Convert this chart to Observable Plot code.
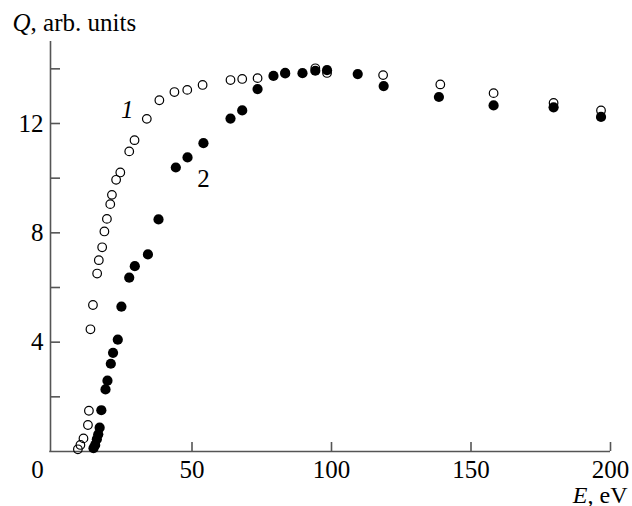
<!DOCTYPE html>
<html><head><meta charset="utf-8">
<script src="https://cdn.jsdelivr.net/npm/d3@7"></script>
<script src="https://cdn.jsdelivr.net/npm/@observablehq/plot@0.6"></script>
<style>body{margin:0;background:#fff}</style>
</head><body><div id="chart"></div>
<script>
// Curve 1 (open circles)
const openE = [9.1, 10.0, 11.1, 12.7, 13.05, 13.6, 14.5, 16.0, 16.6, 17.8, 18.6, 19.5, 20.7, 21.3, 22.8, 24.3, 27.5, 29.4, 33.8, 38.3, 43.7, 48.3, 53.8, 63.8, 68.0, 73.5, 83.4, 94.2, 98.4, 118.5, 139.0, 158.1, 179.6, 196.6];
const openQ = [0.08, 0.24, 0.48, 0.97, 1.49, 4.47, 5.36, 6.51, 7.0, 7.47, 8.05, 8.51, 9.05, 9.39, 9.94, 10.21, 10.98, 11.39, 12.17, 12.85, 13.15, 13.23, 13.41, 13.59, 13.63, 13.66, 13.86, 14.02, 13.85, 13.77, 13.43, 13.11, 12.75, 12.48];
// Curve 2 (filled circles)
const filledE = [14.7, 15.3, 15.9, 16.4, 16.9, 17.5, 19.0, 19.7, 20.9, 21.7, 23.4, 24.7, 27.5, 29.5, 34.2, 38.0, 44.2, 48.4, 54.1, 63.8, 68.0, 73.5, 79.2, 83.4, 89.6, 94.2, 98.4, 109.4, 118.7, 138.5, 158.1, 179.6, 196.6];
const filledQ = [0.12, 0.24, 0.45, 0.63, 0.87, 1.51, 2.27, 2.59, 3.21, 3.61, 4.09, 5.30, 6.36, 6.78, 7.21, 8.49, 10.39, 10.76, 11.28, 12.18, 12.48, 13.26, 13.74, 13.83, 13.84, 13.93, 13.95, 13.81, 13.37, 12.97, 12.66, 12.59, 12.24];

const xTicks = [50, 100, 150, 200];
const xZeroLabel = [0];
const yTicks = [2, 4, 6, 8, 10, 12, 14];
const yLabeledTicks = [4, 8, 12];
const yTitle = ["Q", ", arb. units"];
const xTitle = ["E", ", eV"];
const curveLabels = ["1", "2"];
const curveLabelE = [26.8, 54.1];
const curveLabelQ = [12.49, 9.98];

const openData = openE.map((e, i) => ({E: e, Q: openQ[i]}));
const filledData = filledE.map((e, i) => ({E: e, Q: filledQ[i]}));

const W = 632, H = 506;
const mL = 52, mR = 22, mT = 41, mB = 55;
const plotW = W - mL - mR, plotH = H - mT - mB;
const axisColor = "#555";
const FS = 25;

const chart = Plot.plot({
  width: W, height: H,
  marginLeft: mL, marginRight: mR, marginTop: mT, marginBottom: mB,
  style: {fontFamily: "'Liberation Serif', 'Times New Roman', serif", fontSize: FS + "px", background: "#fff", color: "#000"},
  x: {domain: [0, 200], axis: null},
  y: {domain: [0, 15], axis: null},
  marks: [
    Plot.ruleX([0], {dx: -2, stroke: axisColor, strokeWidth: 1.6}),
    Plot.ruleY([0], {insetLeft: -2.8, stroke: axisColor, strokeWidth: 1.6}),
    Plot.tickX(xTicks, {x: d => d, insetTop: plotH - 9, stroke: axisColor, strokeWidth: 1.6}),
    Plot.tickY(yTicks, {y: d => d, insetRight: plotW - 10, dx: -2, stroke: axisColor, strokeWidth: 1.6}),
    Plot.axisX(xTicks, {tickSize: 0, tickPadding: 9, label: null, fontSize: FS, fill: "#000"}),
    Plot.axisX(xZeroLabel, {tickSize: 0, tickPadding: 9, dx: -15, label: null, fontSize: FS, fill: "#000"}),
    Plot.axisY(yLabeledTicks, {tickSize: 0, tickPadding: 7, dx: -2, label: null, fontSize: FS, fill: "#000"}),
    Plot.dot(openData, {x: "E", y: "Q", r: 4.3, stroke: "#000", strokeWidth: 1.2, fill: "none"}),
    Plot.dot(filledData, {x: "E", y: "Q", r: 5.1, fill: "#000", stroke: "none"}),
    Plot.text([curveLabels[0]], {x: () => curveLabelE[0], y: () => curveLabelQ[0], text: d => d, fontSize: FS, fontStyle: "italic", fill: "#000"}),
    Plot.text([curveLabels[1]], {x: () => curveLabelE[1], y: () => curveLabelQ[1], text: d => d, fontSize: FS, fill: "#000"}),
    Plot.text([yTitle.join("")], {text: d => d, frameAnchor: "top-left", dx: -40, dy: -11, textAnchor: "start", lineAnchor: "bottom", fontSize: FS, fill: "#000"}),
    Plot.text([xTitle.join("")], {text: d => d, frameAnchor: "bottom-right", dx: 17, dy: 51, textAnchor: "end", lineAnchor: "bottom", fontSize: 24, fill: "#000"})
  ]
});

function italicFirst(parts) {
  const full = parts.join("");
  d3.select(chart).selectAll("text").filter(function() { return this.textContent === full; }).each(function() {
    const t = d3.select(this);
    t.text(null);
    t.append("tspan").attr("font-style", "italic").text(parts[0]);
    t.append("tspan").text(parts[1]);
  });
}
italicFirst(yTitle);
italicFirst(xTitle);

document.getElementById("chart").appendChild(chart);
</script>
</body></html>
